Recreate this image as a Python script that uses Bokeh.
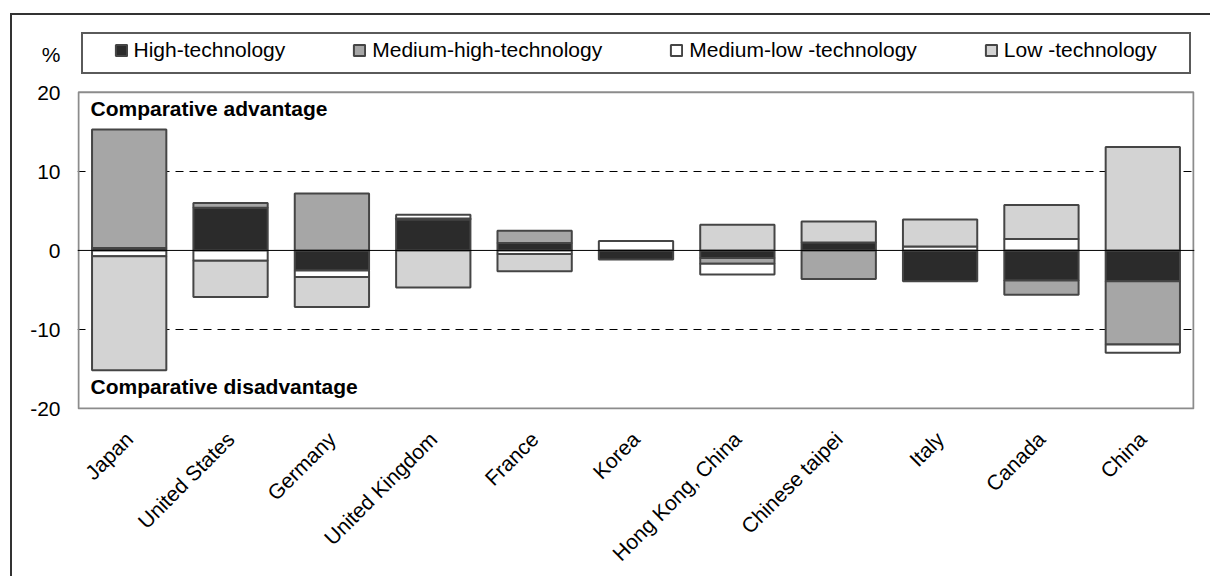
import numpy as np
from math import pi
from bokeh.plotting import figure
from bokeh.models import (FactorRange, Range1d, FixedTicker, Span, Label, Legend,
                          LegendItem, ColumnDataSource)
from bokeh.embed import file_html
from bokeh.resources import INLINE

countries = ["Japan", "United States", "Germany", "United Kingdom", "France", "Korea",
             "Hong Kong, China", "Chinese taipei", "Italy", "Canada", "China"]
high_tech = [0.3, 5.4, -2.55, 3.9, 0.95, -1.15, -0.95, 1.0, -3.9, -3.8, -3.9]
medium_high_tech = [15.0, 0.6, 7.2, 0.15, 1.55, 0.0, -0.75, -3.6, 0.0, -1.8, -8.0]
medium_low_tech = [-0.75, -1.3, -0.8, 0.45, -0.45, 1.2, -1.35, 0.0, 0.5, 1.45, -1.05]
low_tech = [-14.4, -4.6, -3.8, -4.7, -2.2, 0.0, 3.25, 2.65, 3.4, 4.3, 13.1]
series_names = ["High-technology", "Medium-high-technology",
                "Medium-low -technology", "Low -technology"]
series_colors = ["#2b2b2b", "#a6a6a6", "#ffffff", "#d3d3d3"]
y_ticks = [-20, -10, 0, 10, 20]
grid_ticks = [-10, 10]
y_unit = "%"
note_top = "Comparative advantage"
note_bottom = "Comparative disadvantage"

FONT = "Liberation Sans"
PX_PER_UNIT = 7.925          # vertical scale of the value axis
UNIT_POS = 24.73             # where the unit sign sits, above the value axis

# thin outer frame lines and legend box (page decoration behind the canvas)
deco = [("#333333", "10px 13px", "1200px 2px"),
        ("#333333", "10px 13px", "2px 563px"),
        ("#5a5a5a", "81px 32px", "1110px 2px"),
        ("#5a5a5a", "81px 72px", "1110px 2px"),
        ("#5a5a5a", "81px 32px", "2px 42px"),
        ("#5a5a5a", "1189px 32px", "2px 42px")]
styles = {
    "background-color": "white",
    "background-image": ", ".join(f"linear-gradient({c}, {c})" for c, _, _ in deco),
    "background-position": ", ".join(pos for _, pos, _ in deco),
    "background-size": ", ".join(sz for _, _, sz in deco),
    "background-repeat": "no-repeat",
}

y_lo = min(y_ticks) - 1 / PX_PER_UNIT
y_hi = y_lo + (410 - 32) / PX_PER_UNIT
p = figure(x_range=FactorRange(factors=countries, range_padding=0.0018),
           y_range=Range1d(y_lo, y_hi), width=1210, height=576,
           output_backend="svg", toolbar_location=None,
           min_border_left=77, min_border_right=16, min_border_top=32,
           min_border_bottom=166, styles=styles)
p.background_fill_alpha = 0
p.border_fill_alpha = 0
p.outline_line_color = None

# inner plot box spanning the categories and the value-axis extremes
p.quad(left=[0], right=[len(countries)], bottom=[min(y_ticks)], top=[max(y_ticks)],
       fill_alpha=0, line_color="#8c8c8c", line_width=2)

series = [high_tech, medium_high_tech, medium_low_tech, low_tech]
pos = np.zeros(len(countries))
neg = np.zeros(len(countries))
renderers = []
for vals, name, col in zip(series, series_names, series_colors):
    v = np.array(vals, dtype=float)
    bottom = np.where(v >= 0, pos, neg)
    top = bottom + v
    pos = np.where(v >= 0, top, pos)
    neg = np.where(v < 0, top, neg)
    mask = v != 0
    src = ColumnDataSource(dict(x=[c for c, m in zip(countries, mask) if m],
                                top=top[mask], bottom=bottom[mask]))
    r = p.vbar(x="x", top="top", bottom="bottom", width=0.733, source=src,
               fill_color=col, line_color="#454545", line_width=2)
    renderers.append((name, r))

# grid
p.xgrid.visible = False
p.ygrid.ticker = FixedTicker(ticks=grid_ticks)
p.ygrid.grid_line_color = "black"
p.ygrid.grid_line_dash = "8 6"
p.ygrid.grid_line_width = 1

p.add_layout(Span(location=0, dimension="width", line_color="black", line_width=1))

# axes
p.yaxis.ticker = FixedTicker(ticks=y_ticks + [UNIT_POS])
overrides = {t: str(t) for t in y_ticks}
overrides[UNIT_POS] = y_unit
p.yaxis.major_label_overrides = overrides
p.yaxis.axis_line_color = None
p.yaxis.major_tick_line_color = None
p.yaxis.minor_tick_line_color = None
p.yaxis.major_tick_out = 0
p.yaxis.major_tick_in = 0
p.yaxis.major_label_standoff = 17
p.yaxis.major_label_text_font = FONT
p.yaxis.major_label_text_font_size = "21px"
p.yaxis.major_label_text_color = "black"

p.xaxis.axis_line_color = None
p.xaxis.major_tick_line_color = None
p.xaxis.major_tick_out = 0
p.xaxis.major_tick_in = 0
p.xaxis.major_label_orientation = pi / 4
p.xaxis.major_label_standoff = 26
p.xaxis.major_label_text_font = FONT
p.xaxis.major_label_text_font_size = "21px"
p.xaxis.major_label_text_color = "black"

# legend
legend = Legend(items=[LegendItem(label=n, renderers=[r]) for n, r in renderers],
                orientation="horizontal", location=(28.5, 339.5),
                glyph_width=14, glyph_height=14, label_standoff=6, spacing=67,
                padding=8, margin=0, border_line_alpha=0, background_fill_alpha=0,
                label_text_font=FONT, label_text_font_size="21px",
                label_text_color="black")
p.add_layout(legend)

# notes
p.add_layout(Label(x=13, y=17.9, x_units="screen", y_units="data", text=note_top,
                   text_font=FONT, text_font_size="21px", text_font_style="bold",
                   text_baseline="alphabetic", text_color="black"))
p.add_layout(Label(x=13, y=-17.2, x_units="screen", y_units="data", text=note_bottom,
                   text_font=FONT, text_font_size="21px", text_font_style="bold",
                   text_baseline="alphabetic", text_color="black"))

open("out.html", "w").write(file_html(p, INLINE))
